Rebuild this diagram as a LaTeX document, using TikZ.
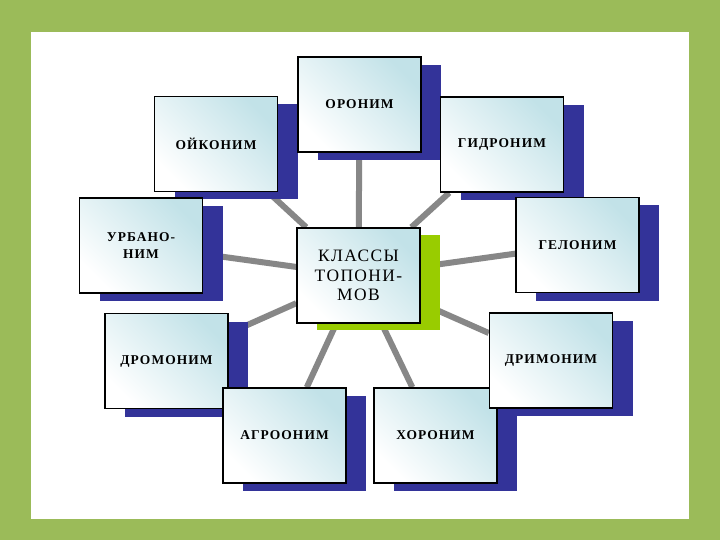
\documentclass[tikz,border=0pt]{standalone}
\usepackage{fontspec}
\setmainfont{Liberation Serif}[LetterSpace=8]
\usepackage{tikz}
\usetikzlibrary{shadows,backgrounds}

\definecolor{framegreen}{HTML}{9BBB59}
\definecolor{shadowblue}{HTML}{333399}
\definecolor{boxcyan}{HTML}{C2E2E8}
\definecolor{hubgreen}{HTML}{99CC00}
\definecolor{linkgray}{HTML}{878787}

\begin{document}
\begin{tikzpicture}[x=1bp, y=-1bp,
    box/.style={draw=black, line width=1.5bp, minimum width=123bp, minimum height=95bp,
        inner sep=0pt, align=center, top color=boxcyan, bottom color=white, shading angle=-45},
    term/.style={box, font=\fontsize{13.5}{17}\selectfont\bfseries,
        drop shadow={shadow xshift=20bp, shadow yshift=-8bp, fill=shadowblue, opacity=1}},
    hub/.style={box, font=\fontsize{17.5}{19.5}\selectfont,
        drop shadow={shadow xshift=20bp, shadow yshift=-7bp, fill=hubgreen, opacity=1}},
    link/.style={draw=linkgray, line width=6bp}]

    \begin{scope}[on background layer]
        \fill[framegreen] (0,0) rectangle (720,540);
        \fill[white] (31,32) rectangle (689,519);
    \end{scope}

    \node[term] (oikonim) at (216,144) {ОЙКОНИМ};
    \node[term] (oronim) at (359.5,104.5) {ОРОНИМ};
    \node[term] (gidronim) at (502,144.5) {ГИДРОНИМ};
    \node[term] (gelonim) at (577.5,245) {ГЕЛОНИМ};
    \node[term] (urbanonim) at (141,245.5) {УРБАНО-\\НИМ};
    \node[term] (dromonim) at (166.5,361) {ДРОМОНИМ};
    \node[term] (agroonim) at (284.5,435.5) {АГРООНИМ};
    \node[term] (khoronim) at (435.5,435.5) {ХОРОНИМ};
    \node[term] (drimonim) at (551,360.5) {ДРИМОНИМ};

    \node[hub] (klassy) at (358.5,275.5) {КЛАССЫ\\ТОПОНИ-\\МОВ};

    \begin{scope}[on background layer]
        \foreach \t in {oikonim,oronim,gidronim,gelonim,urbanonim,dromonim,agroonim,khoronim,drimonim}
            \draw[link] (klassy) -- (\t);
    \end{scope}
\end{tikzpicture}
\end{document}
